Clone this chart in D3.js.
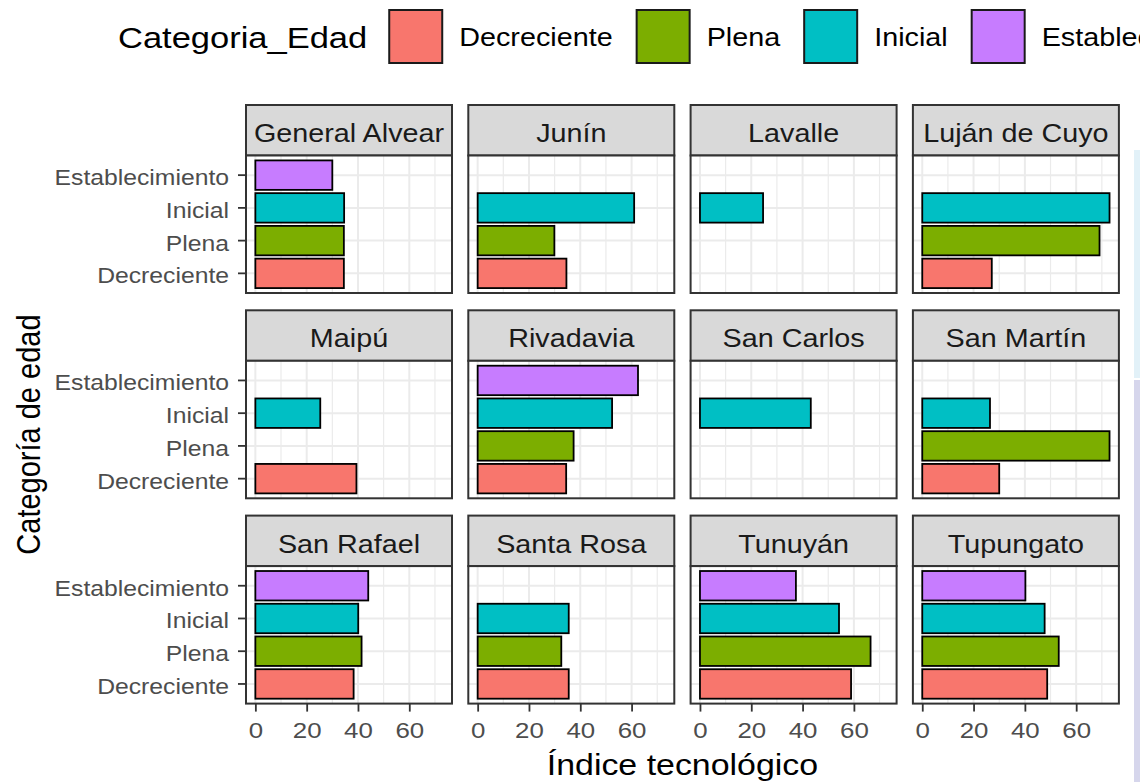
<!DOCTYPE html>
<html>
<head>
<meta charset="utf-8">
<script src="https://cdnjs.cloudflare.com/ajax/libs/d3/7.8.5/d3.min.js"></script>
<style>
  body { margin: 0; background: #fff; }
  svg { display: block; font-family: "Liberation Sans", Arial, sans-serif; }
</style>
</head>
<body>
<svg id="chart" width="1140" height="782"></svg>
<script>
// facets, in reading order
const municipios = ["General Alvear", "Junín", "Lavalle", "Luján de Cuyo",
                    "Maipú", "Rivadavia", "San Carlos", "San Martín",
                    "San Rafael", "Santa Rosa", "Tunuyán", "Tupungato"];
const categorias = ["Decreciente", "Plena", "Inicial", "Establecimiento"];

// one value per municipio (null = no bar)
const decreciente     = [34.5, 34.6, null, 27.1, 39.4, 34.5, null, 30.0, 38.3, 35.5, 58.9, 48.7];
const plena           = [34.5, 29.9, null, 69.1, null, 37.4, null, 73.0, 41.4, 32.6, 66.5, 53.2];
const inicial         = [34.6, 61.0, 24.6, 73.0, 25.3, 52.4, 43.2, 26.4, 40.1, 35.5, 54.2, 47.7];
const establecimiento = [30.0, null, null, null, null, 62.5, null, null, 44.0, null, 37.4, 40.2];

const colores = ["#F8766D", "#7CAE00", "#00BFC4", "#C77CFF"];
const xTicks = [0, 20, 40, 60];

const series = [decreciente, plena, inicial, establecimiento];

const svg = d3.select("#chart");
const SX = 1.15;              // the reference text is a bit wide
const panelW = 206, stripH = 50.5, plotH = 137.5;
const nCols = 4, nRows = 3;
const colX = i => 246 + i * 222.3;
const rowY = j => 105 + j * 205.3;

// small helper for horizontally stretched text
function wideText(parent, x, y, txt) {
    return parent.append("text")
        .attr("transform", `translate(${x},${y}) scale(${SX},1)`)
        .text(txt);
}

// faint strips on the right edge of the screenshot
svg.append("rect").attr("x", 1134).attr("y", 150).attr("width", 6).attr("height", 228).attr("fill", "#e2f1f8");
svg.append("rect").attr("x", 1134).attr("y", 380).attr("width", 6).attr("height", 402).attr("fill", "#d6d6ec");

const maxV = d3.max(series.flat());
const x = d3.scaleLinear()
    .domain([-maxV * 0.05, maxV * 1.05])
    .range([0, panelW]);

const y = d3.scaleBand()
    .domain(categorias)
    .range([plotH, 0])
    .paddingInner(0.1)
    .paddingOuter(0.15);

const minorTicks = x.ticks(8).filter(t => !xTicks.includes(t) && t >= x.domain()[0] && t <= x.domain()[1]);

const panels = municipios.map((m, i) => ({
    municipio: m,
    col: i % nCols,
    row: Math.floor(i / nCols),
    valores: categorias.map((c, k) => ({ cat: c, val: series[k][i], color: colores[k] }))
                       .filter(d => d.val != null)
}));

panels.forEach(p => {
    const g = svg.append("g")
        .attr("transform", `translate(${colX(p.col)},${rowY(p.row)})`);

    // strip
    g.append("rect")
        .attr("width", panelW).attr("height", stripH)
        .attr("fill", "#D9D9D9").attr("stroke", "#333333").attr("stroke-width", 2);
    wideText(g, panelW / 2, 37, p.municipio)
        .attr("text-anchor", "middle")
        .attr("font-size", 25)
        .attr("fill", "#1A1A1A");

    const plot = g.append("g").attr("transform", `translate(0,${stripH})`);
    plot.append("rect").attr("width", panelW).attr("height", plotH).attr("fill", "#fff");

    // grid
    plot.selectAll(".minor").data(minorTicks).enter().append("line")
        .attr("x1", d => x(d)).attr("x2", d => x(d))
        .attr("y1", 0).attr("y2", plotH)
        .attr("stroke", "#EBEBEB").attr("stroke-width", 1.2);
    plot.selectAll(".major").data(xTicks).enter().append("line")
        .attr("x1", d => x(d)).attr("x2", d => x(d))
        .attr("y1", 0).attr("y2", plotH)
        .attr("stroke", "#EBEBEB").attr("stroke-width", 2);
    plot.selectAll(".hmajor").data(categorias).enter().append("line")
        .attr("x1", 0).attr("x2", panelW)
        .attr("y1", d => y(d) + y.bandwidth() / 2).attr("y2", d => y(d) + y.bandwidth() / 2)
        .attr("stroke", "#EBEBEB").attr("stroke-width", 2);

    // bars
    plot.selectAll(".bar").data(p.valores).enter().append("rect")
        .attr("x", x(0))
        .attr("y", d => y(d.cat))
        .attr("width", d => x(d.val) - x(0))
        .attr("height", y.bandwidth())
        .attr("fill", d => d.color)
        .attr("stroke", "#000").attr("stroke-width", 1.8);

    plot.append("rect")
        .attr("width", panelW).attr("height", plotH)
        .attr("fill", "none").attr("stroke", "#333333").attr("stroke-width", 2);

    // y axis on the first column
    if (p.col === 0) {
        const ax = plot.append("g").call(d3.axisLeft(y).tickSize(8).tickPadding(9));
        ax.select(".domain").remove();
        ax.selectAll("line").attr("stroke", "#333333").attr("stroke-width", 1.8);
        ax.selectAll("text")
            .attr("x", -17 / SX)
            .attr("y", 3)
            .attr("transform", `scale(${SX},1)`)
            .attr("font-size", 21.5)
            .attr("font-family", "Liberation Sans, Arial, sans-serif")
            .attr("fill", "#4D4D4D");
    }

    // x axis on the last row
    if (p.row === nRows - 1) {
        const ax = plot.append("g")
            .attr("transform", `translate(0,${plotH})`)
            .call(d3.axisBottom(x).tickValues(xTicks).tickSize(8).tickPadding(10));
        ax.select(".domain").remove();
        ax.selectAll("line").attr("stroke", "#333333").attr("stroke-width", 1.8);
        ax.selectAll("text")
            .attr("transform", `scale(${SX},1)`)
            .attr("font-size", 22.5)
            .attr("font-family", "Liberation Sans, Arial, sans-serif")
            .attr("fill", "#4D4D4D");
    }
});

// axis titles
const plotTop = rowY(0) + stripH;
const plotBottom = rowY(nRows - 1) + stripH + plotH;
wideText(svg, (colX(0) + colX(nCols - 1) + panelW) / 2, 775, "Índice tecnológico")
    .attr("text-anchor", "middle")
    .attr("font-size", 29.5)
    .attr("fill", "#000");

svg.append("text")
    .attr("transform", `translate(40,${(plotTop + plotBottom) / 2 + 5}) rotate(-90) scale(1,${SX})`)
    .attr("text-anchor", "middle")
    .attr("font-size", 29)
    .attr("fill", "#000")
    .text("Categoría de edad");

// legend (last label runs off the right edge, as in the reference)
const leg = svg.append("g");
const legTitle = wideText(leg, 118, 48, "Categoria_Edad")
    .attr("font-size", 30)
    .attr("fill", "#000");
let lx = 118 + legTitle.node().getComputedTextLength() * SX + 22;
categorias.forEach((c, k) => {
    leg.append("rect")
        .attr("x", lx).attr("y", 10)
        .attr("width", 53).attr("height", 53)
        .attr("fill", colores[k])
        .attr("stroke", "#1A1A1A").attr("stroke-width", 2);
    const t = wideText(leg, lx + 53 + 17, 46, c)
        .attr("font-size", 25)
        .attr("fill", "#000");
    lx += 53 + 17 + t.node().getComputedTextLength() * SX + 24;
});
</script>
</body>
</html>
